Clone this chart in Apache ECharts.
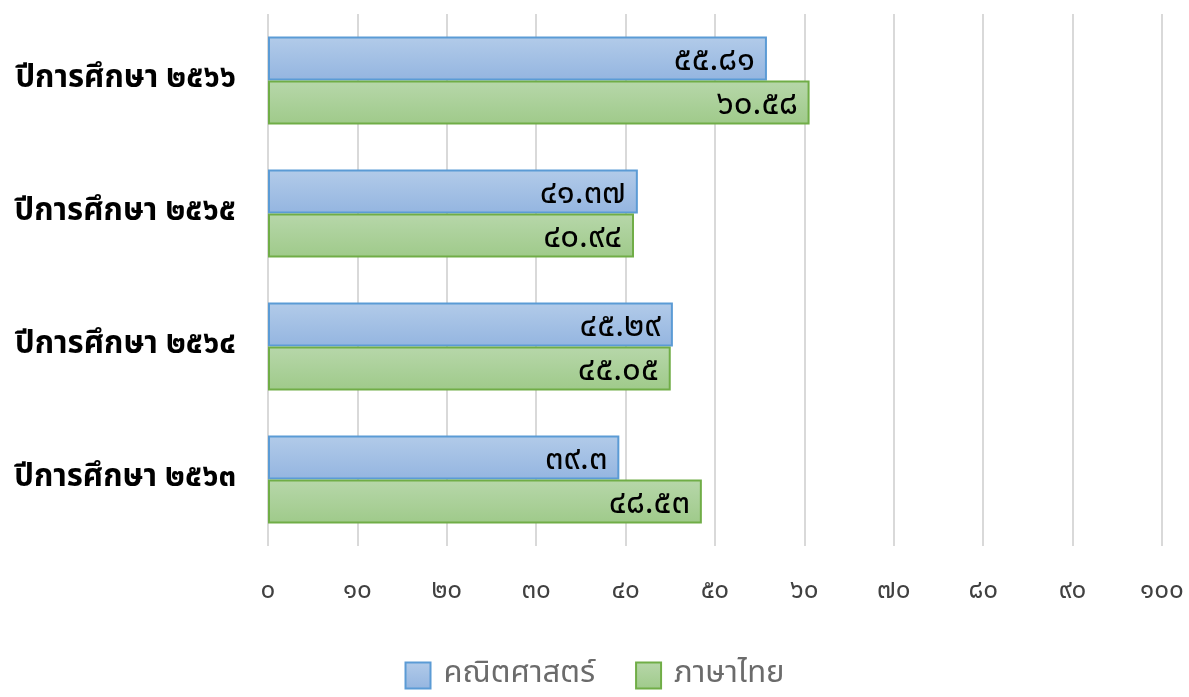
<!DOCTYPE html>
<html><head><meta charset="utf-8">
<script src="https://cdn.jsdelivr.net/npm/echarts@6/dist/echarts.min.js"></script>
<style>html,body{margin:0;padding:0;background:#fff}#c{width:1189px;height:697px}</style>
</head><body><div id="c"></div>
<script>
const categories = ['ปีการศึกษา ๒๕๖๓','ปีการศึกษา ๒๕๖๔','ปีการศึกษา ๒๕๖๕','ปีการศึกษา ๒๕๖๖'];
const mathValues = [39.3, 45.29, 41.37, 55.81];
const thaiValues = [48.53, 45.05, 40.94, 60.58];
const seriesNames = ['คณิตศาสตร์','ภาษาไทย'];
const thaiDigits = ['๐','๑','๒','๓','๔','๕','๖','๗','๘','๙'];
function toThai(v){ return String(v).replace(/[0-9]/g, d => thaiDigits[+d]); }
const fontFam = '"Noto Sans Thai", "Noto Sans Thai UI", "Noto Sans", sans-serif';
const chart = echarts.init(document.getElementById('c'));
function grad(a,b){ return new echarts.graphic.LinearGradient(0,0,0,1,[{offset:0,color:a},{offset:1,color:b}]); }
chart.setOption({
  animation:false,
  grid:{left:268,right:27,top:14,bottom:151},
  legend:{
    bottom:1, left:'center', data:seriesNames, icon:'rect', itemWidth:25, itemHeight:26, itemGap:40,
    textStyle:{fontSize:31,color:'#6b6b6b',fontFamily:fontFam, padding:[0,0,0,8]}
  },
  xAxis:{
    type:'value', min:0, max:100, interval:10,
    axisLine:{show:false}, axisTick:{show:false},
    splitLine:{lineStyle:{color:'#d9d9d9',width:2}},
    axisLabel:{formatter:v=>toThai(v), fontSize:26, color:'#404040', margin:34, fontFamily:fontFam}
  },
  yAxis:{
    type:'category', data:categories,
    axisLine:{show:false}, axisTick:{show:false},
    axisLabel:{fontSize:31, fontWeight:'bold', color:'#000', margin:32, fontFamily:fontFam, padding:[14,0,0,0]}
  },
  series:[
    {name:seriesNames[0], type:'bar', data:mathValues, barCategoryGap:'34%', barGap:'0%',
     itemStyle:{color:grad('#b2cbe9','#94b5e0'), borderColor:'#5b9bd5', borderWidth:2},
     label:{show:true, position:'insideRight', distance:12, offset:[0,5], formatter:p=>toThai(p.value), fontSize:33, color:'#000', fontFamily:fontFam}},
    {name:seriesNames[1], type:'bar', data:thaiValues, barCategoryGap:'34%', barGap:'0%',
     itemStyle:{color:grad('#b7d7aa','#9fca8a'), borderColor:'#70ad47', borderWidth:2},
     label:{show:true, position:'insideRight', distance:12, offset:[0,5], formatter:p=>toThai(p.value), fontSize:33, color:'#000', fontFamily:fontFam}}
  ]
});
</script></body></html>
